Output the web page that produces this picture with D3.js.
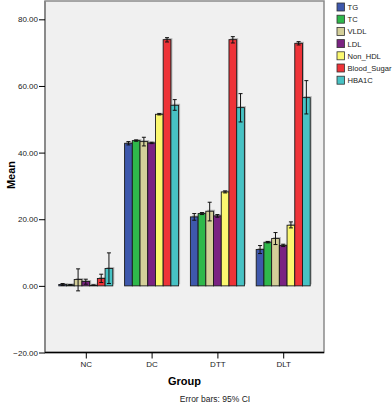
<!DOCTYPE html>
<html><head><meta charset="utf-8">
<script src="https://cdn.jsdelivr.net/npm/d3@7"></script>
<style>body{margin:0;background:#fff}svg{display:block}text{font-family:Arial,"Liberation Sans",sans-serif}</style>
</head><body>
<script>
const groups = ["NC","DC","DTT","DLT"];
const seriesNames = ["TG","TC","VLDL","LDL","Non_HDL","Blood_Sugar","HBA1C"];
const colors = ["#3e58ac","#2fb84b","#d4cf99","#7a2382","#fbf870","#ee3338","#47c2c4"];
// means per series, in group order NC, DC, DTT, DLT
const TG = [0.4, 42.8, 20.7, 10.9];
const TC = [0.3, 43.6, 21.7, 13.1];
const VLDL = [1.9, 43.3, 22.4, 14.2];
const LDL = [1.3, 42.9, 21.0, 12.1];
const Non_HDL = [0.2, 51.5, 28.2, 18.2];
const Blood_Sugar = [2.2, 73.9, 73.9, 72.8];
const HBA1C = [5.2, 54.2, 53.5, 56.5];
// 95% CI low / high
const TG_lo = [0.1, 42.3, 19.7, 9.7], TG_hi = [0.7, 43.3, 21.7, 12.1];
const TC_lo = [0.2, 43.4, 21.4, 12.9], TC_hi = [0.4, 43.8, 22.0, 13.3];
const VLDL_lo = [-1.5, 42.0, 19.5, 12.4], VLDL_hi = [5.1, 44.6, 25.1, 16.0];
const LDL_lo = [0.5, 42.7, 20.6, 11.8], LDL_hi = [2.0, 43.1, 21.4, 12.5];
const Non_HDL_lo = [0.1, 51.3, 27.9, 17.4], Non_HDL_hi = [0.3, 51.7, 28.5, 19.2];
const Blood_Sugar_lo = [1.0, 73.2, 72.9, 72.3], Blood_Sugar_hi = [3.5, 74.5, 74.8, 73.3];
const HBA1C_lo = [0.7, 52.7, 49.2, 51.6], HBA1C_hi = [9.9, 55.9, 57.7, 61.6];
const yTicks = [-20, 0, 20, 40, 60, 80];

const means = [TG, TC, VLDL, LDL, Non_HDL, Blood_Sugar, HBA1C];
const lows = [TG_lo, TC_lo, VLDL_lo, LDL_lo, Non_HDL_lo, Blood_Sugar_lo, HBA1C_lo];
const highs = [TG_hi, TC_hi, VLDL_hi, LDL_hi, Non_HDL_hi, Blood_Sugar_hi, HBA1C_hi];

const W = 392, H = 406;
const L = 45, R = 324, T = 1, B = 352.5;
const svg = d3.select("body").append("svg").attr("width", W).attr("height", H);

const y = d3.scaleLinear().domain([-20, 85.5]).range([B, T]);
const x = d3.scalePoint().domain(groups).range([L, R]).padding(0.62);
const xs = d3.scaleBand().domain(seriesNames).range([-27, 27]).padding(0);

svg.append("rect").attr("x", L).attr("y", T).attr("width", R - L).attr("height", B - T)
  .attr("fill", "#f0f0f0").attr("stroke", "#8a8a8a").attr("stroke-width", 1.5);

const data = [];
groups.forEach((g, gi) => seriesNames.forEach((s, si) => {
  data.push({g, s, si, v: means[si][gi], lo: lows[si][gi], hi: highs[si][gi]});
}));

const bars = svg.append("g");
bars.selectAll("rect.sh").data(data).join("rect").attr("class", "sh")
  .attr("x", d => x(d.g) + xs(d.s) + 1.5)
  .attr("y", d => Math.min(y(d.v), y(0)) - 1.5)
  .attr("width", xs.bandwidth())
  .attr("height", d => Math.abs(y(d.v) - y(0)))
  .attr("fill", "#9a9a9a").attr("opacity", 0.7);
bars.selectAll("rect.bar").data(data).join("rect").attr("class", "bar")
  .attr("x", d => x(d.g) + xs(d.s))
  .attr("y", d => Math.min(y(d.v), y(0)))
  .attr("width", xs.bandwidth())
  .attr("height", d => Math.abs(y(d.v) - y(0)))
  .attr("fill", d => colors[d.si]).attr("stroke", "#1a1a1a").attr("stroke-width", 0.9);

const eb = svg.append("g").attr("stroke", "#111").attr("stroke-width", 1);
data.forEach(d => {
  const cx = x(d.g) + xs(d.s) + xs.bandwidth() / 2;
  eb.append("line").attr("x1", cx).attr("x2", cx).attr("y1", y(d.lo)).attr("y2", y(d.hi));
  eb.append("line").attr("x1", cx - 2).attr("x2", cx + 2).attr("y1", y(d.lo)).attr("y2", y(d.lo));
  eb.append("line").attr("x1", cx - 2).attr("x2", cx + 2).attr("y1", y(d.hi)).attr("y2", y(d.hi));
});

const ya = svg.append("g").attr("transform", `translate(${L},0)`)
  .call(d3.axisLeft(y).tickValues(yTicks).tickFormat(d3.format(".2f")).tickSize(6).tickPadding(1));
ya.select(".domain").attr("stroke", "#8a8a8a").attr("stroke-width", 2).attr("d", `M0,${T}V${B}`);
ya.selectAll(".tick line").attr("stroke", "#000");
ya.selectAll("text").attr("font-size", 8).attr("fill", "#222");

const xa = svg.append("g").attr("transform", `translate(0,${B})`)
  .call(d3.axisBottom(x).tickSize(6).tickPadding(3));
xa.select(".domain").attr("stroke", "#000").attr("stroke-width", 1.5).attr("d", `M${L},0H${R}`);
xa.selectAll("text").attr("font-size", 8).attr("fill", "#222");

svg.append("text").attr("transform", `translate(15,175) rotate(-90)`)
  .attr("text-anchor", "middle").attr("font-size", 11).attr("font-weight", "bold").text("Mean");
svg.append("text").attr("x", (L + R) / 2).attr("y", 385).attr("text-anchor", "middle")
  .attr("font-size", 11).attr("font-weight", "bold").text("Group");
svg.append("text").attr("x", 215).attr("y", 402).attr("text-anchor", "middle")
  .attr("font-size", 8.5).attr("fill", "#222").text("Error bars: 95% CI");

const lg = svg.append("g").attr("transform", "translate(337,3)");
seriesNames.forEach((s, i) => {
  const gy = i * 12.2;
  lg.append("rect").attr("x", 0).attr("y", gy).attr("width", 7.5).attr("height", 8)
    .attr("fill", colors[i]).attr("stroke", "#333").attr("stroke-width", 0.8);
  lg.append("text").attr("x", 10.5).attr("y", gy + 7).attr("font-size", 7.6).attr("fill", "#222").text(s);
});
</script>
</body></html>
